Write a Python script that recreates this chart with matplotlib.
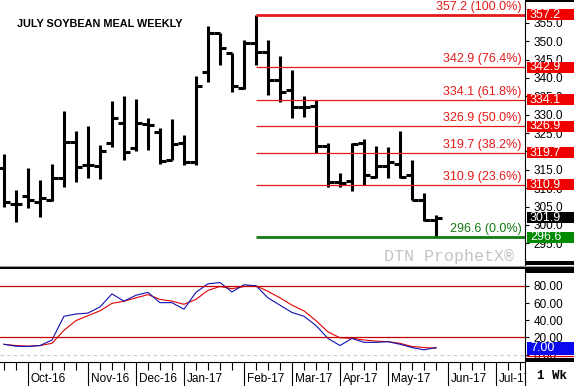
import numpy as np
import matplotlib
matplotlib.use('Agg')
import matplotlib.pyplot as plt
from matplotlib.patches import Rectangle
from matplotlib.lines import Line2D
from matplotlib.transforms import blended_transform_factory, Bbox, TransformedBbox
from matplotlib.ticker import FormatStrFormatter

plt.rcParams['font.family'] = ['Liberation Sans', 'DejaVu Sans']

# weekly OHLC, July soybean meal (one bar per week)
opens = [315.4, 305.6, 307.8, 306.3, 306.8, 312.8, 322.6, 316.3, 316.1, 322.4, 327.8, 320.8, 327.4,
         325.3, 317.6, 322.4, 317.2, 341.7, 352.1, 346.9, 337.2, 349.4, 347.1, 339.4, 336.7, 332.0,
         332.3, 321.5, 311.6, 311.9, 322.2, 313.1, 316.1, 316.6, 313.6, 306.8, 301.3]
highs = [319.3, 309.5, 315.4, 312.2, 316.7, 331.0, 325.5, 326.9, 321.7, 333.8, 335.1, 334.2, 329.0,
         326.4, 328.8, 324.4, 340.5, 354.1, 352.1, 346.9, 350.3, 357.2, 350.3, 346.0, 342.1, 335.1,
         334.0, 322.2, 314.2, 322.2, 323.3, 321.5, 321.3, 325.5, 317.6, 308.7, 302.7]
lows = [304.8, 300.8, 304.5, 302.2, 306.5, 310.4, 311.7, 312.8, 312.4, 321.3, 317.8, 320.1, 320.4,
        316.7, 317.6, 316.3, 316.3, 339.0, 343.5, 336.2, 336.9, 343.5, 335.3, 333.5, 329.0, 329.3,
        319.6, 310.4, 310.2, 309.3, 311.0, 312.7, 312.7, 312.7, 306.8, 301.1, 296.6]
closes = [306.3, 305.6, 306.7, 307.4, 312.8, 322.6, 315.8, 316.3, 320.1, 329.2, 319.9, 327.6, 327.2,
          317.4, 322.0, 317.2, 337.8, 352.1, 348.1, 337.8, 349.4, 347.1, 339.4, 336.2, 332.2, 332.2,
          321.5, 311.6, 311.3, 321.9, 313.6, 316.1, 317.0, 313.1, 306.8, 301.3, 301.9]

# stochastics
stoch_k = [12.1, 9.8, 9.5, 10.6, 17.0, 44.6, 47.2, 48.3, 55.4, 70.6, 62.2, 69.0, 72.4, 60.4, 60.4,
           52.8, 72.4, 82.3, 83.8, 72.9, 81.2, 80.0, 66.0, 57.5, 49.0, 44.6, 33.9, 18.9, 10.6, 18.9,
           14.3, 14.3, 15.1, 12.1, 8.3, 5.6, 8.3]
stoch_d = [12.0, 10.6, 9.9, 10.6, 13.2, 28.3, 39.6, 45.3, 50.9, 59.6, 62.0, 66.0, 69.8, 64.2, 62.2,
           58.5, 64.2, 74.7, 79.2, 76.6, 79.2, 80.0, 73.6, 66.0, 57.5, 50.9, 39.6, 26.5, 19.6, 19.0,
           17.0, 15.8, 15.1, 13.2, 9.5, 8.3, 7.5]

# fibonacci retracement from the Feb high
fib_levels = [357.2, 342.9, 334.1, 326.9, 319.7, 310.9, 296.6]
fib_pcts = ['100.0%', '76.4%', '61.8%', '50.0%', '38.2%', '23.6%', '0.0%']
fib_start = 21

month_pos = [2, 7, 11, 15, 20, 24, 28, 32, 37, 41]
month_labels = ['Oct-16', 'Nov-16', 'Dec-16', 'Jan-17', 'Feb-17', 'Mar-17', 'Apr-17',
                'May-17', 'Jun-17', 'Jul-17']

RED = '#e31b1b'
GREEN = '#137a13'
W, H = 574, 386


def fx(x):
    return x / W


def fy(y):
    return 1 - y / H


fig = plt.figure(figsize=(5.74, 3.86), dpi=100)
ax1 = fig.add_axes([0, fy(265), fx(525), 265 / H])
ax2 = fig.add_axes([0, fy(362), fx(525), 93 / H])
xmax = 43.42

for ax in (ax1, ax2):
    for s in ['left', 'top', 'bottom']:
        ax.spines[s].set_visible(False)
    ax.spines['right'].set_linewidth(0.8)
    ax.yaxis.tick_right()
    ax.set_xlim(-0.33, xmax)
    ax.tick_params(axis='y', length=3, width=0.8, pad=3, labelsize=8.5)
ax2.spines['bottom'].set_visible(True)
ax2.spines['bottom'].set_linewidth(0.8)

# price bars
weeks = np.arange(len(opens))
ax1.vlines(weeks, lows, highs, color='black', lw=2.2)
ax1.hlines(opens, weeks - 0.5, weeks, color='black', lw=2.2)
ax1.hlines(closes, weeks, weeks + 0.5, color='black', lw=2.2)

ax1.set_ylim(289.1, 361.2)
ax1.set_yticks(np.arange(295, 356, 5))
ax1.yaxis.set_major_formatter(FormatStrFormatter('%.1f'))
ax1.set_xticks([])

bt = blended_transform_factory(fig.transFigure, ax1.transData)
for i, (lvl, pct) in enumerate(zip(fib_levels, fib_pcts)):
    c = GREEN if pct == '0.0%' else RED
    lw = 2.0 if i in (0, len(fib_levels) - 1) else 0.9
    ax1.hlines(lvl, fib_start, xmax, color=c, lw=lw)
    ax1.text(43.15, lvl + 0.55, f'{lvl:.1f} ({pct})', ha='right', va='bottom', color=c, fontsize=9)
    box_c = '#008a00' if pct == '0.0%' else '#f00000'
    fig.add_artist(Rectangle((fx(527), lvl - 1.5), fx(574) - fx(527), 3.0, transform=bt,
                             facecolor=box_c, edgecolor='none'))
    fig.text(fx(530), lvl, f'{lvl:.1f}', transform=bt, color='white', fontsize=9, va='center')

# last price box
last = closes[-1]
fig.add_artist(Rectangle((fx(527), last - 1.5), fx(574) - fx(527), 3.0, transform=bt,
                         facecolor='black', edgecolor='none'))
fig.text(fx(530), last, f'{last:.1f}', transform=bt, color='white', fontsize=9, va='center')

fig.text(fx(17), fy(24), 'JULY SOYBEAN MEAL WEEKLY', fontsize=7.8, fontweight='bold', va='center')
fig.text(fx(449), fy(257), 'DTN ProphetX\u00ae', family='Liberation Mono', fontsize=12,
         color='#c4c4c4', ha='center', va='center')

# stochastic panel
ax2.plot(weeks, stoch_d, color='#e00000', lw=0.8)
ax2.plot(weeks, stoch_k, color='#1010b0', lw=0.8)
ax2.axhline(80, color='#c00000', lw=0.9)
ax2.axhline(20, color='#c00000', lw=0.9)
ax2.axhline(0, color='#c8c8c8', lw=0.8, ls=(0, (3, 3)))
ax2.set_ylim(-8.5, 99.5)
ax2.set_yticks(np.arange(0, 81, 20))
ax2.yaxis.set_major_formatter(FormatStrFormatter('%.2f'))

ax2.set_xticks(month_pos)
ax2.set_xticklabels([])
ax2.set_xticks(np.arange(0, 44), minor=True)
ax2.tick_params(axis='x', which='major', length=17, width=0.8)
ax2.tick_params(axis='x', which='minor', length=6, width=0.8)
tx = blended_transform_factory(ax2.transData, ax2.transAxes)
# month labels are cut off at the price scale, like the original
label_clip = TransformedBbox(Bbox([[0, 0], [fx(525), fy(362)]]), fig.transFigure)
for p, lab in zip(month_pos, month_labels):
    t = ax2.text(p + 0.25, -0.183, lab, transform=tx, fontsize=8.5, ha='left', va='center')
    t.set_clip_box(label_clip)
    t.set_clip_on(True)

bt2 = blended_transform_factory(fig.transFigure, ax2.transData)
fig.add_artist(Rectangle((fx(527), 7.2 - 7.5), fx(574) - fx(527), 15.0, transform=bt2,
                         facecolor='#0a0af0', edgecolor='none'))
fig.text(fx(530), 7.2, '7.00', transform=bt2, color='white', fontsize=9, va='center')
fig.add_artist(Line2D([fx(527), fx(574)], [fy(356), fy(356)], color='#e00000', lw=0.9))

# black bands on the price scale and panel separators
for y1, y2 in [(0, 2), (261, 265), (269, 273), (358, 362)]:
    fig.add_artist(Rectangle((fx(525), fy(y2)), fx(574) - fx(525), (y2 - y1) / H,
                             transform=fig.transFigure, facecolor='black', edgecolor='none'))
fig.add_artist(Line2D([0, 1], [fy(265.5), fy(265.5)], color='#9a9a9a', lw=0.8))
fig.add_artist(Line2D([0, 1], [fy(267.5), fy(267.5)], color='black', lw=1.4))
fig.add_artist(Line2D([fx(525), fx(525)], [fy(362), 0], color='black', lw=0.8))
fig.text(fx(537), fy(376), '1 Wk', family='Liberation Mono', fontsize=9, fontweight='bold', va='center')

fig.savefig('out.png', dpi=100)
